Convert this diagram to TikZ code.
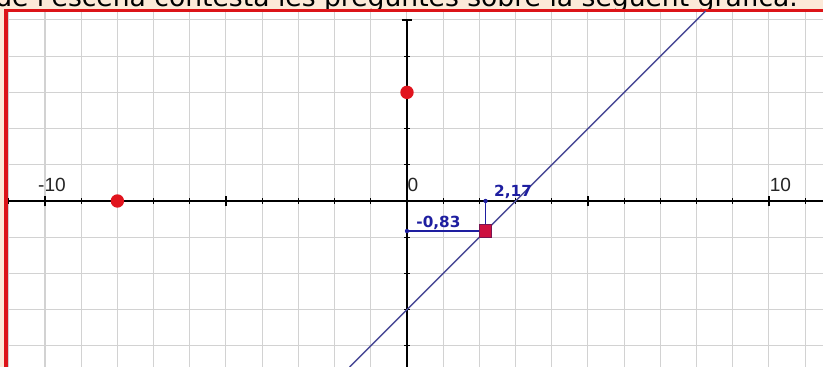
\documentclass[tikz,border=0pt]{standalone}
\usepackage{fontspec}
\usepackage{xcolor}
\usepackage{tikz}
\newfontfamily\headfont{DejaVu Sans}
\newfontfamily\axisfont{Liberation Sans}
\definecolor{PeachBg}{RGB}{252, 233, 216}
\definecolor{FrameRed}{RGB}{220, 20, 24}
\definecolor{GridGray}{RGB}{210, 210, 210}
\definecolor{LineBlue}{RGB}{72, 72, 150}
\definecolor{LabelBlue}{RGB}{30, 30, 160}
\definecolor{PointRed}{RGB}{225, 20, 30}
\definecolor{SquareRed}{RGB}{205, 16, 64}
\definecolor{SquareEdge}{RGB}{120, 20, 80}

\begin{document}
\begin{tikzpicture}[
    gridline/.style={GridGray, line width=0.8pt},
    axisline/.style={black, line width=0.9pt},
    dot/.style={circle, fill=PointRed, inner sep=0pt, minimum size=0.37cm},
    tinydot/.style={circle, fill=LabelBlue, inner sep=0pt, minimum size=0.12cm},
    sqpt/.style={rectangle, fill=SquareRed, draw=SquareEdge, line width=0.6pt, inner sep=0pt, minimum size=0.34cm},
    guide/.style={LabelBlue, line width=1.3pt},
    fnline/.style={LineBlue, line width=1.1pt},
    axislabel/.style={font=\axisfont\fontsize{15pt}{18pt}\selectfont, text=black!85, inner sep=0pt},
    valuelabel/.style={font=\headfont\bfseries\fontsize{12pt}{14pt}\selectfont, text=LabelBlue, inner sep=0pt}
  ]
  \useasboundingbox (-11.243,-4.586) rectangle (11.492,5.552);

  % Background and heading
  \fill[PeachBg] (-11.243,-4.586) rectangle (11.492,5.552);
  \node[anchor=base west, inner sep=0pt, font=\headfont\fontsize{20.9pt}{25pt}\selectfont] (head) at (-11.38,5.36) {de l'escena contesta les preguntes sobre la següent gràfica.};

  % Plot area
  \fill[white] (-11.077,-4.586) rectangle (11.492,5.249);
  \foreach \x in {-11,...,11}
    \draw[gridline] (\x,-4.586) -- (\x,5.249);
  \foreach \y in {-4,...,5}
    \draw[gridline] (-11.077,\y) -- (11.492,\y);

  % Frame
  \draw[FrameRed, line width=2.4pt] (-11.077,-4.586) -- (-11.077,5.249) -- (11.6,5.249);

  % Axes
  \draw[axisline] (-11,0) -- (11.492,0);
  \draw[axisline] (0,5) -- (0,-4.586);
  \foreach \x in {-11,...,11}
    \draw[axisline] (\x,-0.07) -- (\x,0.07);
  \foreach \x in {-10,-5,5,10}
    \draw[axisline] (\x,-0.15) -- (\x,0.15);
  \foreach \y in {-4,...,4}
    \draw[axisline] (-0.07,\y) -- (0.07,\y);
  \draw[axisline] (-0.15,5) -- (0.15,5);

  \node[axislabel] (lm10) at (-9.807,0.44) {-10};
  \node[axislabel] (lp10) at (10.318,0.44) {10};
  \node[axislabel] (l0) at (0.166,0.45) {0};

  % Line y = x - 3
  \coordinate (L1) at (-1.586,-4.586);
  \coordinate (L2) at (8.249,5.249);
  \draw[fnline] (L1) -- (L2);

  % Points
  \node[dot] (A) at (-8,0) {};
  \node[dot] (B) at (0,3) {};
  \node[tinydot] (Px) at (2.17,0) {};
  \node[tinydot] (Py) at (0,-0.83) {};
  \node[sqpt] (P) at (2.17,-0.83) {};

  % Guides
  \draw[guide] (Px) -- (P);
  \draw[guide] (Py) -- (P);
  \node[valuelabel] (vx) at (2.93,0.25) {2,17};
  \node[valuelabel] (vy) at (0.87,-0.594) {-0,83};
\end{tikzpicture}
\end{document}
